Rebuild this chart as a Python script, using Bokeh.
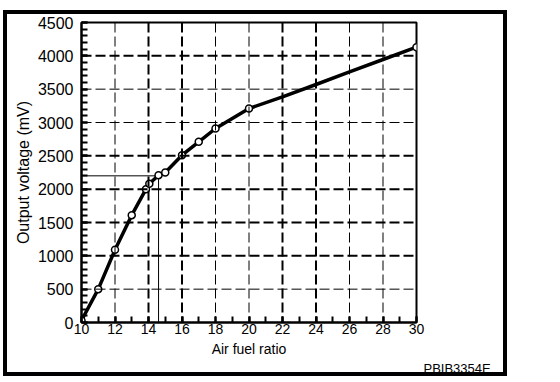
from bokeh.plotting import figure
from bokeh.models import Span, SingleIntervalTicker, Title
from bokeh.embed import file_html
from bokeh.resources import INLINE

# ---- data ----
curve_x = [10, 11, 12, 13, 13.85, 14.05, 14.6, 15, 16, 17, 18, 20, 22, 24, 26, 28, 30]
curve_y = [30, 500, 1090, 1610, 2000, 2080, 2210, 2250, 2510, 2710, 2910, 3210, 3385, 3570, 3760, 3945, 4130]

marker_x = [10, 11, 12, 13, 13.85, 14.05, 14.6, 15, 16, 17, 18, 20, 30]
marker_y = [30, 500, 1090, 1610, 2000, 2080, 2210, 2250, 2510, 2710, 2910, 3210, 4130]

stoich_x = 14.6
stoich_y = 2200

grid_x_thick = [14, 16, 22, 24]
grid_x_thin = [12, 18, 20, 26, 28]
grid_y_thick = [1000, 1500, 2000, 2500, 4000]
grid_y_thin = [500, 3000, 3500]

x_range = (10, 30)
y_range = (0, 4500)

FONT = "Liberation Sans"

W, H = 504, 366
p = figure(width=W, height=H, x_range=x_range, y_range=y_range,
           output_backend="svg", toolbar_location=None,
           min_border_left=74, min_border_right=95, min_border_top=8, min_border_bottom=58)
p.styles = {"margin-left": "3px", "margin-top": "10px", "border": "4px solid black"}

p.xgrid.visible = False
p.ygrid.visible = False
p.outline_line_color = "black"
p.outline_line_width = 2
p.background_fill_color = "white"
p.border_fill_color = "white"

for v in grid_x_thick:
    p.add_layout(Span(location=v, dimension="height", line_color="black", line_width=2, line_dash="10 4"))
for v in grid_x_thin:
    p.add_layout(Span(location=v, dimension="height", line_color="black", line_width=1, line_dash="10 4"))
for v in grid_y_thick:
    p.add_layout(Span(location=v, dimension="width", line_color="black", line_width=2, line_dash="10 4"))
for v in grid_y_thin:
    p.add_layout(Span(location=v, dimension="width", line_color="black", line_width=1, line_dash="10 4"))

# stoichiometric reference lines
p.segment(x0=[x_range[0]], y0=[stoich_y], x1=[stoich_x], y1=[stoich_y], line_color="black", line_width=1)
p.segment(x0=[stoich_x], y0=[stoich_y], x1=[stoich_x], y1=[y_range[0]], line_color="black", line_width=1)

p.line(curve_x, curve_y, line_color="black", line_width=3.5)
p.scatter(marker_x, marker_y, size=7, fill_color="white", line_color="black", line_width=1.5)

# axes
p.xaxis.ticker = SingleIntervalTicker(interval=2, num_minor_ticks=2)
p.yaxis.ticker = SingleIntervalTicker(interval=500, num_minor_ticks=5)
for ax in (p.xaxis[0], p.yaxis[0]):
    ax.axis_line_color = "black"
    ax.axis_line_width = 2
    ax.major_tick_in = 6
    ax.major_tick_out = 0
    ax.minor_tick_in = 6
    ax.minor_tick_out = 0
    ax.major_tick_line_width = 2
    ax.minor_tick_line_width = 2
    ax.major_tick_line_color = "black"
    ax.minor_tick_line_color = "black"
    ax.major_label_text_font = FONT
    ax.major_label_text_color = "black"
    ax.axis_label_text_font = FONT
    ax.axis_label_text_font_style = "normal"
    ax.axis_label_text_color = "black"

p.xaxis.major_label_text_font_size = "14px"
p.yaxis.major_label_text_font_size = "16px"
p.xaxis.major_label_standoff = 1
p.yaxis.major_label_standoff = 8
p.xaxis.axis_label = "Air fuel ratio"
p.yaxis.axis_label = "Output voltage (mV)"
p.xaxis.axis_label_text_font_size = "14px"
p.yaxis.axis_label_text_font_size = "16px"
p.xaxis.axis_label_standoff = 4
p.yaxis.axis_label_standoff = 3

p.add_layout(Title(text="PBIB3354E", align="left", offset=342, vertical_align="top",
                   text_font=FONT, text_font_size="13px", text_font_style="normal",
                   text_color="black", standoff=2), "below")

open("out.html", "w").write(file_html(p, INLINE))
